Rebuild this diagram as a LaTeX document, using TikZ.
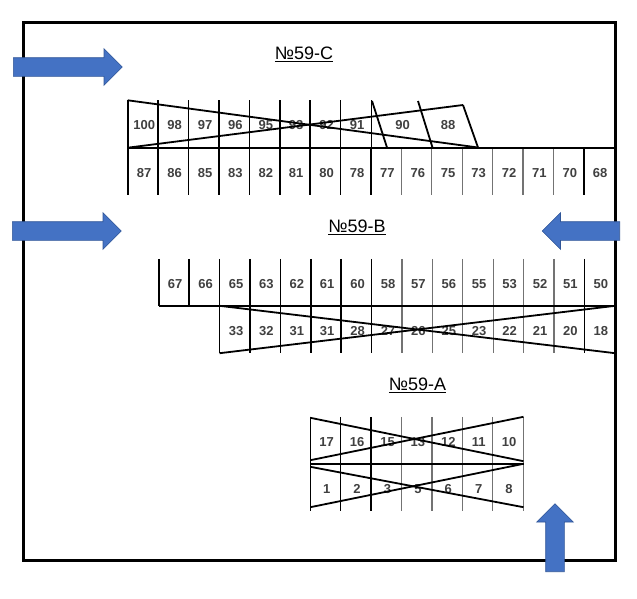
\documentclass[tikz,border=0pt]{standalone}
\usepackage{fontspec}
\setmainfont{Liberation Sans}
\usepackage{tikz}
\usetikzlibrary{shapes.arrows}
\definecolor{arrowblue}{HTML}{4472C4}
\definecolor{arrowedge}{HTML}{2F5597}

\begin{document}
\begin{tikzpicture}[x=1pt, y=-1pt, node distance = 30.4pt,
    cell/.style = {rectangle, minimum width = 30.4pt, minimum height = 47pt, inner sep = 0pt, text height = 11.7pt, text depth = 0pt, execute at begin node = \hspace*{2pt}, text = black!75, font = \bfseries\fontsize{13}{15}\selectfont},
    title/.style = {inner sep = 0pt, font = \fontsize{18}{20}\selectfont},
    tick/.style = {draw, line width = 1.5pt},
    faint/.style = {draw = black!55, line width = 1.2pt},
    cross/.style = {draw, line width = 1.8pt},
    bluearrow/.style = {single arrow, draw = arrowedge, fill = arrowblue, line width = 0.6pt, inner xsep = 0pt, inner ysep = 9pt, minimum height = 109pt, minimum width = 36pt, single arrow head extend = 9pt, single arrow head indent = 0pt, anchor = tail}]
    \useasboundingbox (0,0) rectangle (637,598);
    \coordinate (framea) at (23,22);
    \coordinate (frameb) at (615,560);
    \draw[line width = 3pt] (framea) rectangle (frameb);

    \node[title] (titlec) at (304,54) {\underline{№59-C}};
    \node[title] (titleb) at (357,227) {\underline{№59-B}};
    \node[title] (titlea) at (417.5,385) {\underline{№59-A}};

    % No.59-C upper row
    \node[cell] (c100) at (143.2,124) {100};
    \node[cell] (c98) [right of=c100] {98};
    \node[cell] (c97) [right of=c98] {97};
    \node[cell] (c96) [right of=c97] {96};
    \node[cell] (c95) [right of=c96] {95};
    \node[cell] (c93) [right of=c95] {93};
    \node[cell] (c92) [right of=c93] {92};
    \node[cell] (c91) [right of=c92] {91};
    \node[cell] (c90) [right of=c91, node distance = 45.6pt] {90};
    \node[cell] (c88) [right of=c90, node distance = 45.6pt] {88};
    % No.59-C lower row
    \node[cell] (c87) [below of=c100, node distance = 47.5pt] {87};
    \node[cell] (c86) [right of=c87] {86};
    \node[cell] (c85) [right of=c86] {85};
    \node[cell] (c83) [right of=c85] {83};
    \node[cell] (c82) [right of=c83] {82};
    \node[cell] (c81) [right of=c82] {81};
    \node[cell] (c80) [right of=c81] {80};
    \node[cell] (c78) [right of=c80] {78};
    \node[cell] (c77) [right of=c78] {77};
    \node[cell] (c76) [right of=c77] {76};
    \node[cell] (c75) [right of=c76] {75};
    \node[cell] (c73) [right of=c75] {73};
    \node[cell] (c72) [right of=c73] {72};
    \node[cell] (c71) [right of=c72] {71};
    \node[cell] (c70) [right of=c71] {70};
    \node[cell] (c68) [right of=c70] {68};

    % No.59-B upper row
    \node[cell] (b67) at (174.2,282.5) {67};
    \node[cell] (b66) [right of=b67] {66};
    \node[cell] (b65) [right of=b66] {65};
    \node[cell] (b63) [right of=b65] {63};
    \node[cell] (b62) [right of=b63] {62};
    \node[cell] (b61) [right of=b62] {61};
    \node[cell] (b60) [right of=b61] {60};
    \node[cell] (b58) [right of=b60] {58};
    \node[cell] (b57) [right of=b58] {57};
    \node[cell] (b56) [right of=b57] {56};
    \node[cell] (b55) [right of=b56] {55};
    \node[cell] (b53) [right of=b55] {53};
    \node[cell] (b52) [right of=b53] {52};
    \node[cell] (b51) [right of=b52] {51};
    \node[cell] (b50) [right of=b51] {50};
    % No.59-B lower row
    \node[cell] (b33) [below of=b65, node distance = 47pt] {33};
    \node[cell] (b32) [right of=b33] {32};
    \node[cell] (b31) [right of=b32] {31};
    \node[cell] (b30) [right of=b31] {31};
    \node[cell] (b28) [right of=b30] {28};
    \node[cell] (b27) [right of=b28] {27};
    \node[cell] (b26) [right of=b27] {26};
    \node[cell] (b25) [right of=b26] {25};
    \node[cell] (b23) [right of=b25] {23};
    \node[cell] (b22) [right of=b23] {22};
    \node[cell] (b21) [right of=b22] {21};
    \node[cell] (b20) [right of=b21] {20};
    \node[cell] (b18) [right of=b20] {18};

    % No.59-A
    \node[cell] (a17) at (325.7,440.5) {17};
    \node[cell] (a16) [right of=a17] {16};
    \node[cell] (a15) [right of=a16] {15};
    \node[cell] (a13) [right of=a15] {13};
    \node[cell] (a12) [right of=a13] {12};
    \node[cell] (a11) [right of=a12] {11};
    \node[cell] (a10) [right of=a11] {10};
    \node[cell] (a1) [below of=a17, node distance = 47pt] {1};
    \node[cell] (a2) [right of=a1] {2};
    \node[cell] (a3) [right of=a2] {3};
    \node[cell] (a5) [right of=a3] {5};
    \node[cell] (a6) [right of=a5] {6};
    \node[cell] (a7) [right of=a6] {7};
    \node[cell] (a8) [right of=a7] {8};

    % cell walls
    \foreach \n in {c100,c98,c97,c96,c95,c93,c92,c91,c87,c86,c85,c83,c82,c81,c80,c78,c77,c68,b67,b66,b65,b63,b62,b61,b60,b58,b50,b33,b32,b31,b30,b28,b27,b18,a17,a16,a15,a1,a2,a3}
        \draw[tick] (\n.north west) -- (\n.south west);
    \foreach \n in {c76,c75,c73,c72,c71,c70,b57,b56,b55,b53,b52,b51,b26,b25,b23,b22,b21,b20,a13,a12,a11,a10,a5,a6,a7,a8}
        \draw[faint] (\n.north west) -- (\n.south west);
    \draw[tick] (c91.north east) -- (c91.south east);
    \draw[faint] (a10.north east) -- (a10.south east);
    \draw[faint] (a8.north east) -- (a8.south east);
    \draw[tick] (c87.north west) -- (c68.north east);
    \draw[tick] (b67.south west) -- (b50.south east);
    \draw[tick] (a17.south west) -- (a10.south east);

    % crossed out stalls
    \coordinate (ctop) at (463,105);
    \coordinate (cend) at (478,147.5);
    \coordinate (slanta) at (372,101);
    \coordinate (slantb) at (387,147.5);
    \coordinate (slantc) at (418,101);
    \coordinate (slantd) at (432.5,147.5);
    \draw[cross] (c100.north west) -- (cend);
    \draw[cross] (c100.south west) -- (ctop);
    \draw[cross] (ctop) -- (cend);
    \draw[cross] (slanta) -- (slantb);
    \draw[cross] (slantc) -- (slantd);
    \draw[cross] (b33.north west) -- (b18.south east);
    \draw[cross] (b33.south west) -- (b18.north east);
    \draw[cross] ([yshift=-1pt]a17.north west) -- ([yshift=3pt]a10.south east);
    \draw[cross] ([yshift=4pt]a17.south west) -- (a10.north east);
    \draw[cross] ([yshift=-3pt]a1.north west) -- ([yshift=4pt]a8.south east);
    \draw[cross] ([yshift=4pt]a1.south west) -- (a8.north east);

    \node[bluearrow] (arrowc) at (13,67) {};
    \node[bluearrow] (arrowb) at (12,231) {};
    \node[bluearrow, shape border rotate = 180, minimum height = 77.5pt] (arrowr) at (620,231) {};
    \node[bluearrow, shape border rotate = 90, inner xsep = 9pt, inner ysep = 0pt, minimum height = 68pt] (arrowa) at (555,572) {};
\end{tikzpicture}
\end{document}
